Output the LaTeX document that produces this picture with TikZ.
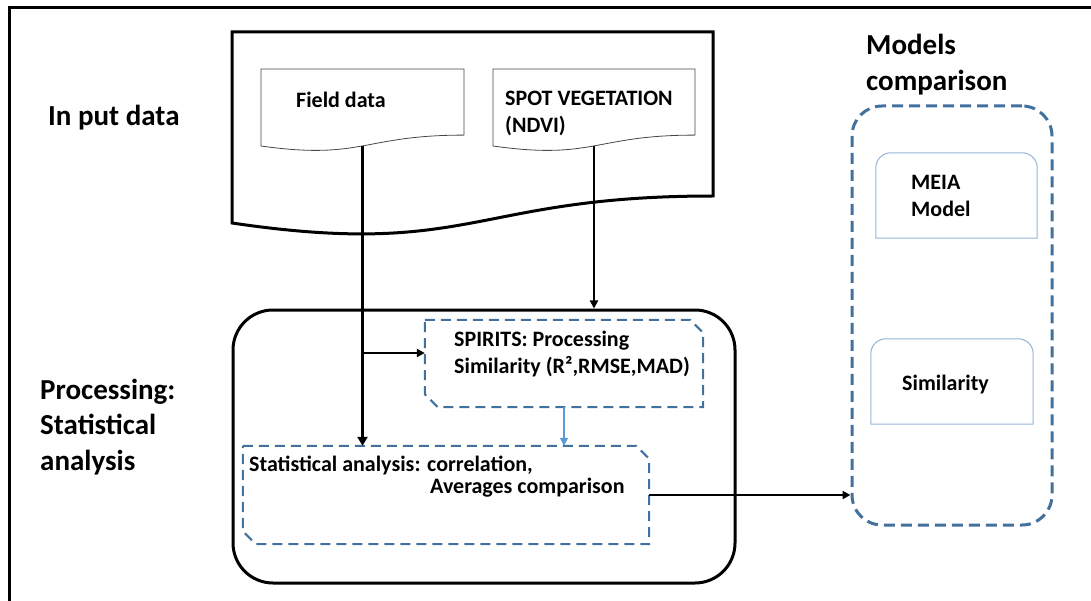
\documentclass[tikz,border=0pt]{standalone}
\usepackage{fontspec}
\setmainfont{Carlito}
\usetikzlibrary{arrows.meta}
\definecolor{dd}{RGB}{65, 113, 156}
\definecolor{ll}{RGB}{91, 155, 213}
\definecolor{mm}{RGB}{149, 179, 215}
\definecolor{gg}{RGB}{70, 70, 70}

\begin{document}
\begin{tikzpicture}[every node/.style={inner sep=0pt},
  bigtext/.style={font=\fontsize{29}{35.5}\selectfont\bfseries, align=left, anchor=west},
  smalltext/.style={font=\fontsize{22}{27}\selectfont\bfseries, align=left, anchor=west},
  dashline/.style={draw=dd, line width=2pt, dash pattern=on 10pt off 6pt},
  modelbox/.style={draw=mm, line width=1pt}]
\useasboundingbox (0pt, 0pt) rectangle (1091pt, -601pt);
% page frame
\draw [line width=3pt, color=black] (9pt, -601pt) -- (9pt, -8pt) -- (1091pt, -8pt);
% input documents
\draw [line width=3pt, color=black] (232pt, -32pt) -- (713pt, -32pt) -- (713pt, -196pt) .. controls (472.5pt, -196pt) and (472.5pt, -258.5pt) .. (232pt, -223pt) -- cycle;
\draw [line width=0.8pt, color=gg] (261pt, -69pt) -- (464pt, -69pt) -- (464pt, -135.1pt) .. controls (362.5pt, -135.1pt) and (362.5pt, -160.3pt) .. (261pt, -146pt) -- cycle;
\draw [line width=0.8pt, color=gg] (493pt, -69pt) -- (695pt, -69pt) -- (695pt, -135.1pt) .. controls (594pt, -135.1pt) and (594pt, -160.3pt) .. (493pt, -146pt) -- cycle;
\coordinate (fieldout) at (362.5pt, -146pt);
\coordinate (spotout) at (594pt, -146pt);
% boxes
\node (proc) [draw, line width=3pt, rounded corners=40pt, minimum width=502pt, minimum height=273pt] at (484pt, -446.5pt) {};
\node (spirits) [minimum width=278pt, minimum height=87pt] at (564pt, -363.5pt) {};
\node (stat) [minimum width=406pt, minimum height=98pt] at (446pt, -495pt) {};
\draw [dashline] (spirits.north west) -- ([xshift=-13pt]spirits.north east) -- ([yshift=-13pt]spirits.north east) -- (spirits.south east) -- ([xshift=13pt]spirits.south west) -- ([yshift=13pt]spirits.south west) -- cycle;
\draw [dashline] (stat.north west) -- ([xshift=-13pt]stat.north east) -- ([yshift=-13pt]stat.north east) -- (stat.south east) -- ([xshift=13pt]stat.south west) -- ([yshift=13pt]stat.south west) -- cycle;
\node (models) [draw=dd, line width=3pt, dash pattern=on 11pt off 6pt, rounded corners=30pt, minimum width=200pt, minimum height=419pt] at (952pt, -315.5pt) {};
\node (meia) [minimum width=161pt, minimum height=85pt] at (956.5pt, -195.5pt) {};
\node (simi) [minimum width=162pt, minimum height=85pt] at (952pt, -381.5pt) {};
\draw [modelbox] (meia.south west) -- ([yshift=-15pt]meia.north west) arc [start angle=180, end angle=90, radius=15pt] -- ([xshift=-15pt]meia.north east) arc [start angle=90, end angle=0, radius=15pt] -- (meia.south east) -- cycle;
\draw [modelbox] (simi.south west) -- ([yshift=-15pt]simi.north west) arc [start angle=180, end angle=90, radius=15pt] -- ([xshift=-15pt]simi.north east) arc [start angle=90, end angle=0, radius=15pt] -- (simi.south east) -- cycle;
% texts
\node (inlabel) [bigtext] at (48pt, -118pt) {In put data};
\node (proclabel) [bigtext] at (40pt, -427pt) {Processing:\\Statistical\\analysis};
\node (modlabel) [bigtext] at (866pt, -64.5pt) {Models\\comparison};
\node (fieldtext) [smalltext] at (296pt, -100pt) {Field data};
\node (spottext) [smalltext] at (505pt, -113pt) {SPOT VEGETATION\\(NDVI)};
\node (spiritstext) [smalltext] at (454pt, -354.5pt) {SPIRITS: Processing\\Similarity (R²,RMSE,MAD)};
\node (stattexta) [smalltext] at (249pt, -465pt) {Statistical analysis: correlation,};
\node (stattextb) [smalltext] at (430pt, -488pt) {Averages comparison};
\node (meiatext) [smalltext] at (911pt, -196pt) {MEIA\\Model};
\node (simitext) [smalltext] at (902pt, -385pt) {Similarity};
% arrows
\draw [line width=2.5pt, -{Triangle[length=9pt, width=10pt]}] (fieldout) -- (fieldout |- stat.north);
\draw [line width=2pt, -{Triangle[length=8pt, width=8pt]}] (spotout) -- (spotout |- proc.north);
\draw [line width=2pt, -{Triangle[length=8pt, width=8pt]}] ([yshift=10.5pt]spirits.west -| fieldout) -- ([yshift=10.5pt]spirits.west);
\draw [line width=1.5pt, color=ll, -{Triangle[length=8pt, width=8pt]}] (spirits.south) -- (spirits.south |- stat.north);
\draw [line width=2pt, -{Triangle[length=8pt, width=8pt]}] (stat.east) -- (stat.east -| models.west);
\end{tikzpicture}
\end{document}
